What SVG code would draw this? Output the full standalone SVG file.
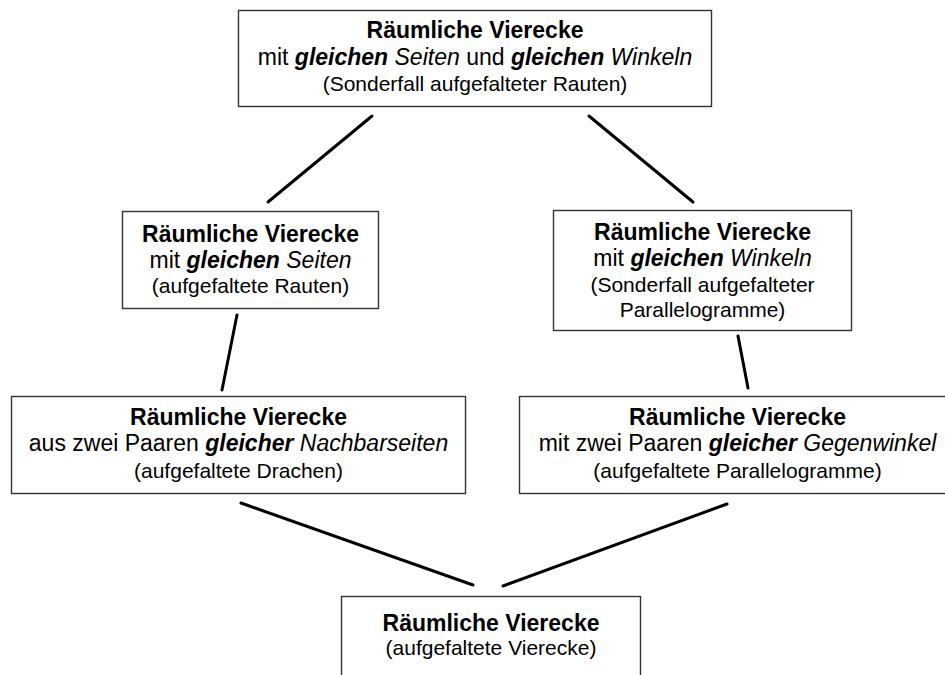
<svg xmlns="http://www.w3.org/2000/svg" width="945" height="675" viewBox="0 0 945 675">
<style>
.box{fill:#fff;stroke:#333;stroke-width:1.4}
text{font-family:"Liberation Sans",Arial,sans-serif;fill:#000;text-anchor:middle}
.t{font-size:23px;font-weight:bold}
.m{font-size:23px}
.p{font-size:21px}
.b{font-weight:bold;font-style:italic}
.i{font-style:italic}
.c line{stroke:#000;stroke-width:3;stroke-linecap:round}
</style>
<rect width="945" height="675" fill="#fff"/>
<g class="c" id="connectors">
<line x1="372" y1="116" x2="268" y2="202"/>
<line x1="589" y1="116" x2="693" y2="202"/>
<line x1="237" y1="315" x2="222" y2="390"/>
<line x1="738" y1="336" x2="748" y2="388"/>
<line x1="241" y1="503" x2="473" y2="585"/>
<line x1="503" y1="586" x2="727" y2="504"/>
</g>
<g id="n_top">
<rect class="box" x="238.5" y="10.5" width="473" height="96"/>
<text class="t" x="475" y="38">Räumliche Vierecke</text>
<text class="m" x="475" y="64.5">mit <tspan class="b">gleichen</tspan> <tspan class="i">Seiten</tspan> und <tspan class="b">gleichen</tspan> <tspan class="i">Winkeln</tspan></text>
<text class="p" x="475" y="91">(Sonderfall aufgefalteter Rauten)</text>
</g>
<g id="n_seiten">
<rect class="box" x="122.5" y="211.5" width="256" height="97"/>
<text class="t" x="250.5" y="242">Räumliche Vierecke</text>
<text class="m" x="250.5" y="267.5">mit <tspan class="b">gleichen</tspan> <tspan class="i">Seiten</tspan></text>
<text class="p" x="250.5" y="293">(aufgefaltete Rauten)</text>
</g>
<g id="n_winkel">
<rect class="box" x="553.5" y="210.5" width="298" height="120"/>
<text class="t" x="702.5" y="239.5">Räumliche Vierecke</text>
<text class="m" x="702.5" y="266">mit <tspan class="b">gleichen</tspan> <tspan class="i">Winkeln</tspan></text>
<text class="p" x="702.5" y="291.5">(Sonderfall aufgefalteter</text>
<text class="p" x="702.5" y="316.5">Parallelogramme)</text>
</g>
<g id="n_drachen">
<rect class="box" x="11.5" y="396.5" width="454" height="97"/>
<text class="t" x="238.5" y="425">Räumliche Vierecke</text>
<text class="m" x="238.5" y="451">aus zwei Paaren <tspan class="b">gleicher</tspan> <tspan class="i">Nachbarseiten</tspan></text>
<text class="p" x="238.5" y="477.5">(aufgefaltete Drachen)</text>
</g>
<g id="n_parallelogramme">
<rect class="box" x="519.5" y="396.5" width="440" height="97"/>
<text class="t" x="737.5" y="424.5">Räumliche Vierecke</text>
<text class="m" x="737.5" y="451">mit zwei Paaren <tspan class="b">gleicher</tspan> <tspan class="i">Gegenwinkel</tspan></text>
<text class="p" x="737.5" y="477.5">(aufgefaltete Parallelogramme)</text>
</g>
<g id="n_bottom">
<rect class="box" x="341.5" y="596.5" width="299" height="100"/>
<text class="t" x="491" y="631">Räumliche Vierecke</text>
<text class="p" x="491" y="655">(aufgefaltete Vierecke)</text>
</g>
</svg>
